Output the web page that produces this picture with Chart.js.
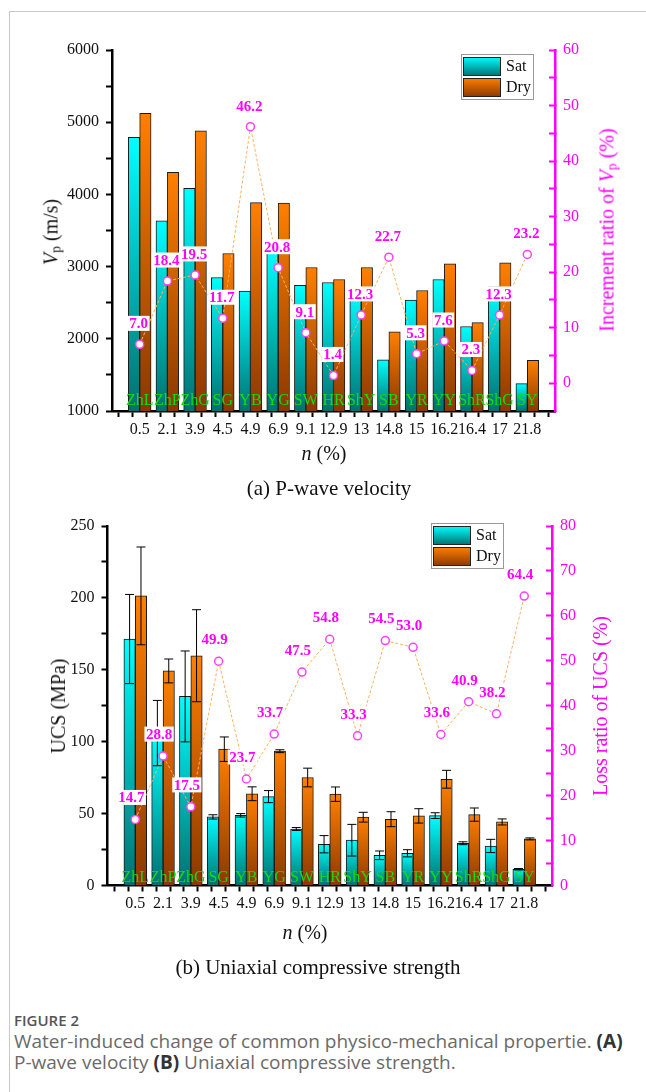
<!DOCTYPE html>
<html>
<head>
<meta charset="utf-8">
<script src="https://cdn.jsdelivr.net/npm/chart.js@4.4.1/dist/chart.umd.min.js"></script>
<style>
  html, body { margin: 0; padding: 0; background: #fff; }
  body { width: 646px; height: 1092px; position: relative; overflow: hidden; font-family: "Liberation Serif", serif; color: #111; }
  .frame { position: absolute; left: 9px; top: 11px; right: -2px; bottom: -2px; border-left: 1px solid #c8c8c8; border-top: 1px solid #c8c8c8; }
  canvas { position: absolute; left: 0; }
  .t { position: absolute; white-space: nowrap; transform: translate(-50%, -50%); line-height: 1; }
  .rot { transform: translate(-50%, -50%) rotate(-90deg); }
  .mag { color: #ff00ff; }
  .ax { font-size: 20px; }
  .sub { font-size: 21px; }
  sub { font-size: 0.68em; vertical-align: -0.25em; }
  .cap { position: absolute; left: 14px; font-family: "Open Sans", sans-serif; color: #6a6a6a; white-space: nowrap; }
  .cap b { color: #333; }
</style>
</head>
<body>
<div class="frame"></div>

<canvas id="vpChart" width="646" height="470" style="top:0"></canvas>
<canvas id="ucsChart" width="646" height="470" style="top:476px"></canvas>

<!-- (a) titles -->
<div class="t rot ax" style="left:52px; top:232px"><i>V</i><sub>p</sub> (m/s)</div>
<div class="t rot ax mag" style="left:608px; top:230px">Increment ratio of <i>V</i><sub>p</sub> (%)</div>
<div class="t ax" style="left:324px; top:453px"><i>n</i> (%)</div>
<div class="t sub" style="left:329px; top:488px">(a) P-wave velocity</div>

<!-- (b) titles -->
<div class="t rot ax" style="left:58px; top:706px">UCS (MPa)</div>
<div class="t rot ax mag" style="left:600px; top:706px">Loss ratio of UCS (%)</div>
<div class="t ax" style="left:305px; top:932px"><i>n</i> (%)</div>
<div class="t sub" style="left:318px; top:967px">(b) Uniaxial compressive strength</div>

<div class="cap" style="top:1010px; font-size:15px; font-weight:600; color:#555">FIGURE 2</div>
<div class="cap" style="top:1028px; font-size:19px">Water-induced change of common physico-mechanical propertie. <b>(A)</b></div>
<div class="cap" style="top:1049px; font-size:19px">P-wave velocity <b>(B)</b> Uniaxial compressive strength.</div>

<script>
// ── Data ──────────────────────────────────
const nLabels   = ["0.5", "2.1", "3.9", "4.5", "4.9", "6.9", "9.1", "12.9", "13", "14.8", "15", "16.2", "16.4", "17", "21.8"];
const rockCodes = ["ZhL", "ZhP", "ZhG", "SG", "YB", "YG", "SW", "HR", "ShY", "SB", "YR", "YY", "ShR", "ShG", "SY"];

const vpSat   = [4790, 3635, 4083, 2849, 2660, 3212, 2742, 2780, 2660, 1707, 2535, 2821, 2170, 2720, 1380];
const vpDry   = [5122, 4305, 4881, 3182, 3885, 3880, 2988, 2821, 2988, 2095, 2669, 3038, 2225, 3052, 1703];
const vpRatio = [7.0, 18.4, 19.5, 11.7, 46.2, 20.8, 9.1, 1.4, 12.3, 22.7, 5.3, 7.6, 2.3, 12.3, 23.2];

const ucsSat    = [171.4, 106.0, 131.5, 47.7, 48.8, 61.8, 39.3, 28.7, 31.5, 21.0, 22.4, 48.6, 29.4, 27.5, 11.3];
const ucsSatErr = [31.0, 22.7, 31.6, 1.5, 1.2, 4.2, 1.0, 6.0, 11.0, 3.0, 2.5, 2.0, 1.0, 4.6, 0.5];
const ucsDry    = [201.4, 149.2, 159.8, 94.8, 63.8, 93.4, 75.1, 63.5, 47.5, 46.1, 48.4, 73.9, 49.3, 44.2, 32.4];
const ucsDryErr = [34.0, 8.3, 32.0, 8.5, 4.8, 1.0, 6.5, 5.0, 3.4, 5.2, 5.0, 6.2, 4.6, 2.1, 0.7];
const ucsLoss   = [14.7, 28.8, 17.5, 49.9, 23.7, 33.7, 47.5, 54.8, 33.3, 54.5, 53.0, 33.6, 40.9, 38.2, 64.4];

// ── Styling constants ─────────────────────
const MAGENTA = "#ff00ff";
const SERIF   = '"Liberation Serif", "Times New Roman", serif';
const SAT_C   = ["#00ffff", "#007070"];
const DRY_C   = ["#ff8000", "#8a3800"];

Chart.defaults.font.family = SERIF;
Chart.defaults.font.size   = 16;

const xy = arr => arr.map((v, i) => ({ x: i + 1, y: v }));

// vertical gradient per bar (bright top, dark bottom)
function barFill(colors) {
  return ctx => {
    const chart = ctx.chart;
    if (!chart.chartArea || ctx.type !== "data" || !ctx.parsed) return colors[0];
    const ys  = chart.scales.y;
    const top = ys.getPixelForValue(ctx.parsed.y);
    const bot = ys.getPixelForValue(ys.min);
    if (!isFinite(top) || bot - top < 1) return colors[0];
    const g = chart.ctx.createLinearGradient(0, top, 0, bot);
    g.addColorStop(0, colors[0]);
    g.addColorStop(1, colors[1]);
    return g;
  };
}

// ── Overlay plugin: codes, error bars, value labels, legend ──
const overlay = {
  id: "overlay",
  afterDatasetsDraw(chart, args, o) {
    const c  = chart.ctx;
    const xs = chart.scales.x, ys = chart.scales.y;
    c.save();

    // error bars
    if (o.errors) {
      c.strokeStyle = "#000";
      c.lineWidth = 1;
      o.errors.forEach((errs, di) => {
        const meta = chart.getDatasetMeta(di);
        const vals = chart.data.datasets[di].data;
        errs.forEach((e, i) => {
          const x  = meta.data[i].x;
          const y1 = ys.getPixelForValue(vals[i].y + e);
          const y2 = ys.getPixelForValue(vals[i].y - e);
          c.beginPath();
          c.moveTo(x, y1); c.lineTo(x, y2);
          c.moveTo(x - 4.5, y1); c.lineTo(x + 4.5, y1);
          c.moveTo(x - 4.5, y2); c.lineTo(x + 4.5, y2);
          c.stroke();
        });
      });
    }

    // rock codes along the bottom
    c.fillStyle = "#11dd11";
    c.font = "16px " + SERIF;
    c.textAlign = "center";
    c.textBaseline = "alphabetic";
    rockCodes.forEach((code, i) => {
      c.fillText(code, xs.getPixelForValue(i + 1), chart.chartArea.bottom - o.codeLift);
    });

    // ratio value labels
    const lm = chart.getDatasetMeta(2);
    c.font = "bold 15px " + SERIF;
    c.textBaseline = "middle";
    chart.data.datasets[2].data.forEach((d, i) => {
      const p  = lm.data[i];
      const tx = p.x + o.labelDx, ty = p.y + o.labelDy;
      const txt = d.y.toFixed(1);
      const w = c.measureText(txt).width;
      c.fillStyle = "#fff";
      c.fillRect(tx - w / 2 - 1.5, ty - 7.5, w + 3, 15);
      c.fillStyle = MAGENTA;
      c.fillText(txt, tx, ty + 1);
    });

    // legend
    const L = o.legend;
    c.fillStyle = "#fff";
    c.fillRect(L.x, L.y, 72, 45);
    c.strokeStyle = "#999";
    c.lineWidth = 1;
    c.strokeRect(L.x + 0.5, L.y + 0.5, 72, 45);
    [["Sat", SAT_C], ["Dry", DRY_C]].forEach(([name, cols], k) => {
      const sy = L.y + 3 + k * 21;
      const g = c.createLinearGradient(0, sy, 0, sy + 19);
      g.addColorStop(0, cols[0]);
      g.addColorStop(1, cols[1]);
      c.fillStyle = g;
      c.fillRect(L.x + 2, sy, 38, 19);
      c.strokeStyle = "#222";
      c.strokeRect(L.x + 2.5, sy + 0.5, 37, 18);
      c.fillStyle = "#111";
      c.font = "16px " + SERIF;
      c.textAlign = "left";
      c.textBaseline = "middle";
      c.fillText(name, L.x + 45, sy + 10);
    });

    c.restore();
  }
};

// ── Chart builder ─────────────────────────
function buildChart(id, o) {
  const bar = { borderColor: "#1a1a1a", borderWidth: 1, order: 2, barThickness: 11.4 };
  const datasets = [
    { ...bar, label: "Sat", data: xy(o.sat), backgroundColor: barFill(SAT_C) },
    { ...bar, label: "Dry", data: xy(o.dry), backgroundColor: barFill(DRY_C) },
    {
      type: "line", label: o.ratioName, data: xy(o.ratio), yAxisID: "y1", order: 0,
      borderColor: "#ffb060", borderWidth: 1, borderDash: [3, 2],
      pointRadius: 4, pointBackgroundColor: "#fff", pointBorderColor: "#ff40ff", pointBorderWidth: 1.5,
    },
  ];

  return new Chart(document.getElementById(id), {
    type: "bar",
    data: { datasets },
    options: {
      responsive: false,
      animation: false,
      devicePixelRatio: 1,
      layout: { padding: { top: o.padTop, left: 0, right: 0, bottom: 0 } },
      plugins: {
        legend:  { display: false },
        tooltip: { enabled: false },
        overlay: o.overlay,
      },
      scales: {
        x: {
          type: "linear", min: 0, max: 16, offset: false,
          ticks: {
            stepSize: 0.5, maxTicksLimit: 100, autoSkip: false, maxRotation: 0,
            padding: 3, color: "#111", font: { size: 16 },
            callback: v => (Number.isInteger(v) && v >= 1 && v <= 15) ? nLabels[v - 1] : "",
          },
          grid:   { drawOnChartArea: false, tickLength: 6, tickColor: "#000", tickWidth: 2 },
          border: { color: "#000", width: 2.5 },
          afterFit: s => { s.height = o.xAxisH; },
        },
        y: {
          position: "left", min: o.yMin, max: o.yMax,
          ticks: {
            stepSize: o.yStep / 2, maxTicksLimit: 100, padding: 7, color: "#111", font: { size: 16 },
            callback: v => (v % o.yStep === 0) ? String(v) : "",
          },
          grid:   { drawOnChartArea: false, tickLength: 6, tickColor: "#000", tickWidth: 2 },
          border: { color: "#000", width: 2.5 },
          afterFit: s => { s.width = o.leftW; },
        },
        y1: {
          position: "right", min: o.rMin, max: o.rMax,
          ticks: {
            stepSize: 5, maxTicksLimit: 100, padding: 14, color: MAGENTA, font: { size: 16 },
            callback: v => (v % 10 === 0) ? String(v) : "",
          },
          grid:   { drawOnChartArea: false, tickLength: -6, tickColor: MAGENTA, tickWidth: 2 },
          border: { color: MAGENTA, width: 2.5 },
          afterFit: s => { s.width = o.rightW; },
        },
      },
    },
    plugins: [overlay],
  });
}

// ── (a) P-wave velocity ───────────────────
buildChart("vpChart", {
  sat: vpSat, dry: vpDry, ratio: vpRatio, ratioName: "Increment ratio",
  yMin: 1000, yMax: 6000, yStep: 1000, rMin: -5, rMax: 60,
  padTop: 50, xAxisH: 59, leftW: 112, rightW: 91,
  overlay: { codeLift: 6, labelDx: -1, labelDy: -21, legend: { x: 461, y: 54 } },
});

// ── (b) Uniaxial compressive strength ─────
buildChart("ucsChart", {
  sat: ucsSat, dry: ucsDry, ratio: ucsLoss, ratioName: "Loss ratio",
  yMin: 0, yMax: 250, yStep: 50, rMin: 0, rMax: 80,
  padTop: 50, xAxisH: 60.5, leftW: 107.5, rightW: 94,
  overlay: { errors: [ucsSatErr, ucsDryErr], codeLift: 4, labelDx: -4, labelDy: -22, legend: { x: 431, y: 47 } },
});
</script>
</body>
</html>
